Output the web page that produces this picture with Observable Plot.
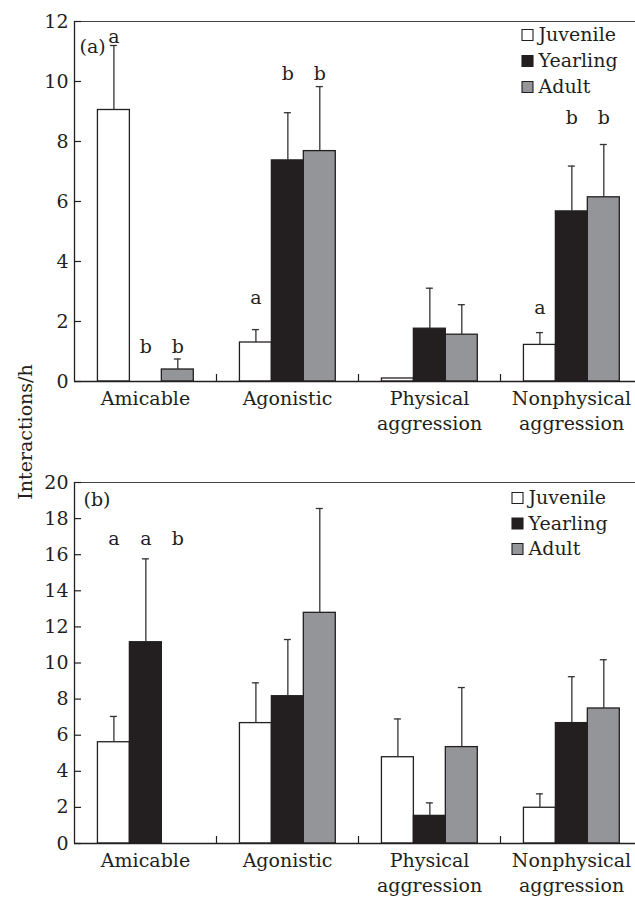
<!DOCTYPE html>
<html>
<head>
<meta charset="utf-8">
<script src="https://cdn.jsdelivr.net/npm/d3@7"></script>
<script src="https://cdn.jsdelivr.net/npm/@observablehq/plot@0.6"></script>
<style>
  html, body { margin: 0; padding: 0; background: #fff; overflow: hidden; }
  #wrap { position: relative; width: 635px; height: 898px; }
  #wrap svg { display: block; overflow: hidden; }
  #ylab { position: absolute; left: 25px; top: 432px; transform: translate(-50%, -50%) rotate(-90deg);
          font-family: "DejaVu Serif", serif; font-size: 19px; color: #231f20; white-space: nowrap; }
</style>
</head>
<body>
<div id="wrap">
  <div id="panelA"></div>
  <div id="panelB"></div>
  <div id="ylab">Interactions/h</div>
</div>
<script>
// ---------- data ----------
const categories = ["Amicable", "Agonistic", "Physical aggression", "Nonphysical aggression"];
const categoryLabels = ["Amicable", "Agonistic", "Physical\naggression", "Nonphysical\naggression"];
const groups = ["Juvenile", "Yearling", "Adult"];

// Panel (a): means and upper end of error bar (null = none)
const aJuvenile      = [9.05, 1.30, 0.10, 1.22];
const aYearling      = [0.00, 7.37, 1.76, 5.67];
const aAdult         = [0.40, 7.68, 1.56, 6.14];
const aJuvenileUpper = [11.2, 1.73, null, 1.63];
const aYearlingUpper = [null, 8.96, 3.11, 7.18];
const aAdultUpper    = [0.75, 9.83, 2.56, 7.90];
const aLetters = [
  {cat: "Amicable", group: "Juvenile", text: "a", y: 11.5},
  {cat: "Amicable", group: "Yearling", text: "b", y: 1.15},
  {cat: "Amicable", group: "Adult", text: "b", y: 1.15},
  {cat: "Agonistic", group: "Juvenile", text: "a", y: 2.8},
  {cat: "Agonistic", group: "Yearling", text: "b", y: 10.25},
  {cat: "Agonistic", group: "Adult", text: "b", y: 10.25},
  {cat: "Nonphysical aggression", group: "Juvenile", text: "a", y: 2.45},
  {cat: "Nonphysical aggression", group: "Yearling", text: "b", y: 8.8},
  {cat: "Nonphysical aggression", group: "Adult", text: "b", y: 8.8}
];
const aTicks = [0, 2, 4, 6, 8, 10, 12];

// Panel (b)
const bJuvenile      = [5.61, 6.67, 4.78, 1.98];
const bYearling      = [11.15, 8.16, 1.53, 6.67];
const bAdult         = [0.00, 12.78, 5.34, 7.48];
const bJuvenileUpper = [7.04, 8.90, 6.90, 2.75];
const bYearlingUpper = [15.77, 11.30, 2.25, 9.24];
const bAdultUpper    = [null, 18.56, 8.64, 10.18];
const bLetters = [
  {cat: "Amicable", group: "Juvenile", text: "a", y: 16.9},
  {cat: "Amicable", group: "Yearling", text: "a", y: 16.9},
  {cat: "Amicable", group: "Adult", text: "b", y: 16.9}
];
const bTicks = [0, 2, 4, 6, 8, 10, 12, 14, 16, 18, 20];

// ---------- styling / layout ----------
const colors = ["#ffffff", "#231f20", "#939598"];
const ink = "#231f20";
const FONT = "DejaVu Serif";
const BAND_PX = 142;            // pixel width of one category
const OFF = 0.165, W = 0.225;   // bar offset & width in category units

function rows(means, uppers) {
  const out = [];
  categories.forEach((c, ci) => groups.forEach((g, gi) => {
    out.push({cat: c, ci, group: g, gi, mean: means[gi][ci], upper: uppers[gi][ci]});
  }));
  return out;
}
const cx = d => categories.indexOf(d.cat) + OFF + W * (groups.indexOf(d.group) + 0.5);

function panel({data, letters, ticks, ymax, height, marginTop, marginBottom, tag, tagDx, tagDy, legDx, legDy, legStep}) {
  const plotH = height - marginTop - marginBottom;
  const pxPerY = plotH / ymax;
  const bars = data.filter(d => d.mean > 0);
  const errs = data.filter(d => d.upper != null);
  const cap = 3.5 / BAND_PX;
  const legend = groups.flatMap((g, i) => [
    Plot.dot([g], {frameAnchor: "top-left", dx: legDx, dy: legDy + legStep * i, symbol: "square", r: 6.2,
                   fill: colors[i], stroke: ink, strokeWidth: 1.1}),
    Plot.text([g], {frameAnchor: "top-left", dx: legDx + 11, dy: legDy + legStep * i, text: d => d,
                    textAnchor: "start", lineAnchor: "middle", fontSize: 19, fill: ink})
  ]);
  return Plot.plot({
    width: 635, height, marginLeft: 74, marginRight: 0, marginTop, marginBottom,
    style: {fontFamily: FONT, fontSize: "19px", color: ink, background: "#fff"},
    x: {type: "linear", domain: [0, 4], range: [74, 74 + 4 * BAND_PX]},
    y: {domain: [0, ymax]},
    color: {domain: groups, range: colors},
    marks: [
      Plot.rect(bars, {x1: d => d.ci + OFF + W * d.gi, x2: d => d.ci + OFF + W * (d.gi + 1), y1: 0, y2: "mean",
                       fill: "group", stroke: ink, strokeWidth: 1.3}),
      Plot.ruleX(errs, {x: cx, y1: "mean", y2: "upper", stroke: "#333", strokeWidth: 1.3}),
      Plot.ruleY(errs, {y: "upper", x1: d => cx(d) - cap, x2: d => cx(d) + cap, stroke: "#333", strokeWidth: 1.3}),
      // frame: left axis, bottom, top
      Plot.ruleX([0], {y1: 0, y2: ymax, stroke: ink, strokeWidth: 1.3}),
      Plot.ruleY([0], {x1: 0, x2: 4, stroke: ink, strokeWidth: 1.3}),
      Plot.ruleY([ymax], {x1: 0, x2: 4, stroke: "#444", strokeWidth: 1.2}),
      // inward y ticks
      Plot.ruleY(ticks, {y: d => d, x1: 0, x2: 7 / BAND_PX, stroke: ink, strokeWidth: 1.2}),
      // category separators
      Plot.ruleX([1, 2, 3], {y1: 0, y2: 7 / pxPerY, stroke: ink, strokeWidth: 1.2}),
      Plot.axisY({ticks, tickSize: 0, tickPadding: 6, label: null, fontSize: 19, fill: ink}),
      Plot.axisX({ticks: [0.5, 1.5, 2.5, 3.5], tickFormat: v => categoryLabels[Math.floor(v)],
                  tickSize: 0, tickPadding: 6, label: null, fontSize: 19, lineHeight: 1.3, fill: ink}),
      Plot.text(letters, {x: cx, y: "y", text: "text", lineAnchor: "middle", fontSize: 19, fill: ink}),
      Plot.text([tag], {frameAnchor: "top-left", dx: tagDx, dy: tagDy, text: d => d, textAnchor: "start",
                        lineAnchor: "middle", fontSize: 19, fill: ink}),
      ...legend
    ]
  });
}

document.getElementById("panelA").append(panel({
  data: rows([aJuvenile, aYearling, aAdult], [aJuvenileUpper, aYearlingUpper, aAdultUpper]),
  letters: aLetters, ticks: aTicks, ymax: 12, height: 450, marginTop: 21, marginBottom: 69,
  tag: "(a)", tagDx: 5, tagDy: 25, legDx: 453, legDy: 13.5, legStep: 26
}));
document.getElementById("panelB").append(panel({
  data: rows([bJuvenile, bYearling, bAdult], [bJuvenileUpper, bYearlingUpper, bAdultUpper]),
  letters: bLetters, ticks: bTicks, ymax: 20, height: 448, marginTop: 32, marginBottom: 55,
  tag: "(b)", tagDx: 9, tagDy: 17, legDx: 443, legDy: 15.5, legStep: 25.5
}));
</script>
</body>
</html>
